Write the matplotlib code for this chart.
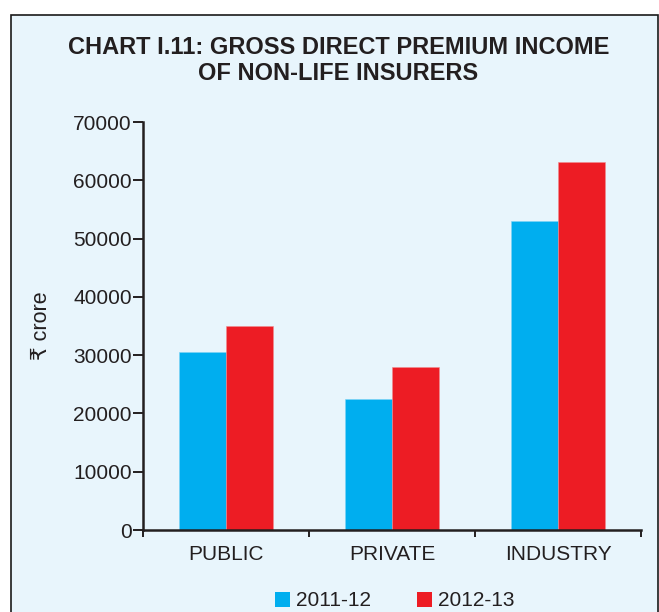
import numpy as np
import matplotlib
matplotlib.use('Agg')
import matplotlib.pyplot as plt
from matplotlib.patches import Rectangle, Patch

plt.rcParams['font.family'] = ['Liberation Sans', 'DejaVu Sans']

# gross direct premium, Rs crore
sectors = ['PUBLIC', 'PRIVATE', 'INDUSTRY']
years = ['2011-12', '2012-13']
prem_1112 = [30600, 22400, 53000]
prem_1213 = [35000, 28000, 63100]

blue = '#00aeef'
red = '#ed1c24'
bg = '#e8f5fc'
ink = '#231f20'

fig = plt.figure(figsize=(6.59, 6.12), dpi=100)
W, H = 659, 612

# panel box behind everything
fig.patches.append(Rectangle((11 / W, -0.05), (658 - 11) / W, 1.05 - 15 / H,
                             transform=fig.transFigure, facecolor=bg,
                             edgecolor='#1a1a1a', linewidth=1.2, zorder=-5))

fig.text(338.5 / W, 1 - 36 / H,
         'CHART I.11: GROSS DIRECT PREMIUM INCOME\nOF NON-LIFE INSURERS',
         ha='center', va='top', fontsize=17, fontweight='bold',
         color=ink, linespacing=1.15)

ax = fig.add_axes([143 / W, 1 - 530 / H, (641 - 143) / W, (530 - 122) / H])
ax.set_facecolor('none')
ax.set_zorder(2)

x = np.arange(len(sectors))
w = 0.285
ax.bar(x - w / 2, prem_1112, w, color=blue, edgecolor='#7fd3f5', linewidth=0.4, label=years[0])
ax.bar(x + w / 2, prem_1213, w, color=red, edgecolor='#f08c90', linewidth=0.4, label=years[1])

ax.set_xlim(-0.5, 2.5)
ax.set_ylim(0, 70000)
ax.set_yticks(np.arange(0, 70001, 10000))
ax.set_xticks(x)
ax.set_xticklabels(sectors)
ax.set_xticks([-0.5, 0.5, 1.5, 2.5], minor=True)

for s in ['top', 'right']:
    ax.spines[s].set_visible(False)
for s in ['left', 'bottom']:
    ax.spines[s].set_linewidth(1.8)
    ax.spines[s].set_color(ink)

ax.tick_params(axis='y', direction='out', length=7, width=1.4, pad=1,
               labelsize=15, colors=ink)
ax.tick_params(axis='x', which='major', length=0, pad=11, labelsize=15, colors=ink)
ax.tick_params(axis='x', which='minor', direction='out', length=5, width=1.4, color=ink)

ax.set_ylabel('₹ crore', fontsize=15.5, color=ink)
ax.yaxis.set_label_coords(-0.182, 0.5)

handles = [Patch(facecolor=blue, label=years[0]), Patch(facecolor=red, label=years[1])]
fig.legend(handles=handles, loc='center', bbox_to_anchor=(395 / W, 1 - 601 / H),
           ncol=2, frameon=False, fontsize=15, handlelength=0.72, handleheight=0.72,
           handletextpad=0.3, columnspacing=2.2, labelcolor=ink)

fig.savefig('out.png', dpi=100, facecolor='white')
